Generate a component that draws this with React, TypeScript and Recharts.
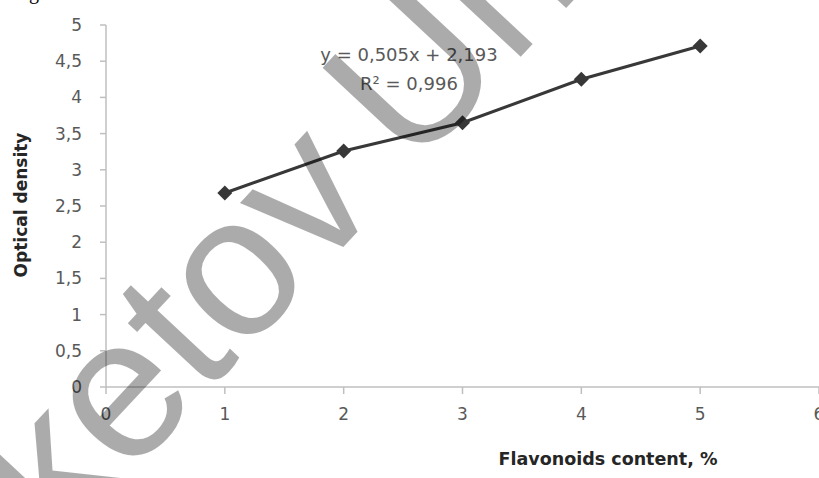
import { LineChart, Line, XAxis, YAxis } from "recharts";

// Flavonoids calibration curve
const contentPct = [1, 2, 3, 4, 5];
const opticalDensity = [2.68, 3.26, 3.65, 4.25, 4.71];
const xTicks = [0, 1, 2, 3, 4, 5, 6];
const yTicks = [0, 0.5, 1, 1.5, 2, 2.5, 3, 3.5, 4, 4.5, 5];
const equationText = "y = 0,505x + 2,193";
const r2Text = "R² = 0,996";
const xTitle = "Flavonoids content, %";
const yTitle = "Optical density";
const watermarkA = "ketov ";
const watermarkB = "Un";

const data = contentPct.map((x, i) => ({ x, y: opticalDensity[i] }));

const FONT = "'DejaVu Sans', sans-serif";
const TICK = { fill: "#595959", fontSize: 17, fontFamily: FONT };
const AXIS = { stroke: "#bfbfbf", strokeWidth: 1.5 };

const comma = (v: number) => String(v).replace(".", ",");

function Diamond(props: any) {
  const { cx, cy, index } = props;
  if (cx == null || cy == null) return null;
  const r = 7.5;
  return (
    <polygon
      key={`d-${index}`}
      points={`${cx},${cy - r} ${cx + r},${cy} ${cx},${cy + r} ${cx - r},${cy}`}
      fill="#383838"
    />
  );
}

export default function App() {
  return (
    <div style={{ position: "absolute", left: 0, top: 0, width: 819, height: 478, overflow: "hidden", background: "#fff" }}>
      <LineChart width={840} height={478} data={data} margin={{ top: 25, right: 21, left: 26, bottom: 51 }}>
        <XAxis
          type="number"
          dataKey="x"
          domain={[0, 6]}
          ticks={xTicks}
          interval={0}
          height={40}
          tick={TICK}
          axisLine={AXIS}
          tickLine={AXIS}
          tickSize={7}
          tickMargin={14}
        />
        <YAxis
          type="number"
          domain={[0, 5]}
          ticks={yTicks}
          interval={0}
          width={80}
          tick={TICK}
          tickFormatter={comma}
          axisLine={AXIS}
          tickLine={AXIS}
          tickSize={6}
          tickMargin={18}
        />
        <Line
          type="linear"
          dataKey="y"
          stroke="#383838"
          strokeWidth={3}
          dot={Diamond}
          activeDot={false}
          isAnimationActive={false}
        />
      </LineChart>
      <svg width={819} height={478} style={{ position: "absolute", left: 0, top: 0, pointerEvents: "none" }}>
        <text x={29} y={-1} fontFamily="serif" fontSize={20} fill="#000">g</text>
        <text x={409} y={61} textAnchor="middle" fontFamily={FONT} fontSize={18} fill="#595959">{equationText}</text>
        <text x={409} y={90} textAnchor="middle" fontFamily={FONT} fontSize={18} fill="#595959">{r2Text}</text>
        <text x={608} y={465} textAnchor="middle" fontFamily={FONT} fontSize={17.5} fontWeight="bold" fill="#262626">{xTitle}</text>
        <text
          x={27}
          y={205}
          textAnchor="middle"
          transform="rotate(-90 27 205)"
          fontFamily={FONT}
          fontSize={17}
          fontWeight="bold"
          fill="#262626"
        >
          {yTitle}
        </text>
        <text
          x={59}
          y={552}
          transform="rotate(-47 59 552)"
          fontFamily="'Liberation Sans', Arial, sans-serif"
          fontSize={200}
          fill="#000"
          fillOpacity={0.33}
          style={{ whiteSpace: "pre" }}
        >
          {watermarkA}
          <tspan dx={-15}>{watermarkB}</tspan>
        </text>
      </svg>
    </div>
  );
}
